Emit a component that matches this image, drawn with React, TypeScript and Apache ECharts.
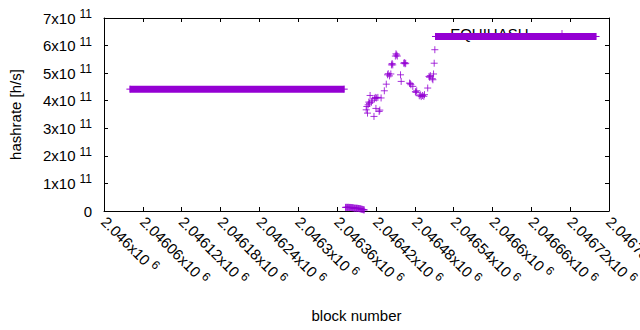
import React, { useEffect, useRef } from "react";
import * as echarts from "echarts";

// ---- data ----
const xTickMin = 2046000;
const xTickMax = 2046780;
const xTickStep = 60;
const yTickMax = 7e11;
const yTickStep = 1e11;

// long constant-difficulty stretches (first and last block of each)
const flat1Blocks = [2046040, 2046371];
const flat1Value = 4.42e11;
const flat2Blocks = [2046512, 2046760];
const flat2Value = 6.33e11;

// near-zero stretch (one value per block)
const lowBlocks = [
  2046373, 2046374, 2046375, 2046376, 2046377, 2046378, 2046379, 2046380, 2046381, 2046382,
  2046383, 2046384, 2046385, 2046386, 2046387, 2046388, 2046389, 2046390, 2046391, 2046392,
  2046393, 2046394, 2046395, 2046396, 2046397, 2046398, 2046399, 2046400, 2046401, 2046402,
];
const lowValues = [
  0.13e11, 0.135e11, 0.13e11, 0.13e11, 0.135e11, 0.13e11, 0.13e11, 0.125e11, 0.13e11, 0.125e11,
  0.12e11, 0.12e11, 0.115e11, 0.11e11, 0.1e11, 0.105e11, 0.1e11, 0.1e11, 0.095e11, 0.1e11,
  0.09e11, 0.09e11, 0.085e11, 0.08e11, 0.07e11, 0.065e11, 0.06e11, 0.05e11, 0.045e11, 0.04e11,
];

// scattered stretch
const scatterBlocks = [
  2046405, 2046406, 2046407, 2046408, 2046409, 2046410, 2046411, 2046413, 2046415, 2046417,
  2046418, 2046419, 2046420, 2046421, 2046423, 2046425, 2046426, 2046428, 2046433, 2046436,
  2046438, 2046439, 2046441, 2046443, 2046444, 2046445, 2046446, 2046450, 2046451, 2046452,
  2046453, 2046458, 2046459, 2046463, 2046464, 2046465, 2046466, 2046472, 2046473, 2046474,
  2046477, 2046481, 2046482, 2046483, 2046487, 2046489, 2046490, 2046492, 2046494, 2046495,
  2046500, 2046502, 2046503, 2046504, 2046507, 2046508, 2046509, 2046510, 2046511,
];
const scatterValues = [
  3.67e11, 3.79e11, 3.55e11, 3.85e11, 3.95e11, 3.91e11, 4.19e11, 3.95e11, 4.02e11, 3.43e11,
  4.08e11, 4.12e11, 3.72e11, 4.1e11, 4.12e11, 3.61e11, 3.66e11, 4.1e11, 4.36e11, 4.6e11,
  4.94e11, 4.98e11, 4.9e11, 4.97e11, 5.3e11, 5.35e11, 5.3e11, 5.62e11, 5.7e11, 5.66e11,
  5.62e11, 4.94e11, 4.7e11, 5.36e11, 5.38e11, 5.34e11, 5.36e11, 4.64e11, 4.62e11, 4.58e11,
  4.52e11, 4.33e11, 4.3e11, 4.36e11, 4.18e11, 4.21e11, 4.15e11, 4.19e11, 4.16e11, 4.22e11,
  4.46e11, 4.88e11, 4.85e11, 4.91e11, 4.8e11, 4.76e11, 4.97e11, 5.36e11, 5.85e11,
];

const seriesName = "EQUIHASH";
const xAxisTitle = "block number";
const yAxisTitle = "hashrate [h/s]";

const PURPLE = "#9400D3";
const FONT = "'Liberation Sans', Arial, sans-serif";
const PLUS = "path://M0,3L6,3M3,0L3,6";

const markerStyle = { color: "transparent", borderColor: PURPLE, borderWidth: 1 };

const richLabel = {
  b: { fontSize: 15, fontFamily: FONT, color: "#000", lineHeight: 20 },
  s: { fontSize: 12, fontFamily: FONT, color: "#000", lineHeight: 12, verticalAlign: "top", padding: [0, 0, 0, 4] },
};

export default function App() {
  const ref = useRef<HTMLDivElement>(null);
  useEffect(() => {
    if (!ref.current) return;
    const chart = echarts.init(ref.current, undefined, { renderer: "svg" });
    const scatterData = [
      ...lowBlocks.map((b, i) => [b, lowValues[i]]),
      ...scatterBlocks.map((b, i) => [b, scatterValues[i]]),
    ];
    const flatSeries = (blocks: number[], v: number) => ({
      type: "line",
      data: blocks.map((b) => [b, v]),
      symbol: PLUS,
      symbolSize: 7,
      showSymbol: true,
      itemStyle: markerStyle,
      lineStyle: { color: PURPLE, width: 7, cap: "butt" },
      z: 5,
      silent: true,
    });
    const axisLine = { show: true, onZero: false, lineStyle: { color: "#000", width: 1 } };
    const tick = { show: true, inside: true, length: 4, lineStyle: { color: "#000" } };
    chart.setOption({
      animation: false,
      backgroundColor: "#fff",
      grid: { left: 104, right: 31, top: 18, bottom: 119, containLabel: false, outerBoundsMode: "none" },
      legend: {
        show: true,
        data: [{ name: seriesName, icon: PLUS }],
        right: 69,
        top: 21,
        align: "right",
        itemWidth: 7,
        itemHeight: 7,
        itemStyle: markerStyle,
        textStyle: { fontSize: 15, fontFamily: FONT, color: "#000", padding: [0, 25, 0, 0] },
        selectedMode: false,
      },
      xAxis: [
        {
          type: "value",
          position: "bottom",
          min: xTickMin,
          max: xTickMax,
          interval: xTickStep,
          axisLine,
          axisTick: tick,
          splitLine: { show: false },
          axisLabel: {
            rotate: -45,
            margin: 8,
            showMaxLabel: true,
            showMinLabel: true,
            hideOverlap: false,
            formatter: (v: number) => `{b|${parseFloat((v / 1e6).toFixed(5))}x10}{s|6}`,
            rich: richLabel,
          },
          name: xAxisTitle,
          nameLocation: "middle",
          nameGap: 97,
          nameTextStyle: { fontSize: 15, fontFamily: FONT, color: "#000" },
        },
        {
          type: "value",
          position: "top",
          min: xTickMin,
          max: xTickMax,
          interval: xTickStep,
          axisLine,
          axisTick: tick,
          axisLabel: { show: false },
          splitLine: { show: false },
        },
      ],
      yAxis: [
        {
          type: "value",
          position: "left",
          min: 0,
          max: yTickMax,
          interval: yTickStep,
          axisLine,
          axisTick: tick,
          splitLine: { show: false },
          axisLabel: {
            margin: 12,
            formatter: (v: number) => (v === 0 ? "{b|0}" : `{b|${Math.round(v / 1e11)}x10}{s|11}`),
            rich: richLabel,
          },
          name: yAxisTitle,
          nameLocation: "middle",
          nameGap: 81,
          nameTextStyle: { fontSize: 15, fontFamily: FONT, color: "#000" },
        },
        {
          type: "value",
          position: "right",
          min: 0,
          max: yTickMax,
          interval: yTickStep,
          axisLine,
          axisTick: tick,
          axisLabel: { show: false },
          splitLine: { show: false },
        },
      ],
      series: [
        flatSeries(flat1Blocks, flat1Value),
        flatSeries(flat2Blocks, flat2Value),
        {
          name: seriesName,
          type: "scatter",
          data: scatterData,
          symbol: PLUS,
          symbolSize: 7,
          itemStyle: markerStyle,
          z: 5,
          silent: true,
        },
      ],
    });
    return () => chart.dispose();
  }, []);
  return (
    <div
      ref={ref}
      style={{ position: "absolute", left: 0, top: 0, width: 640, height: 330, background: "#fff" }}
    />
  );
}
